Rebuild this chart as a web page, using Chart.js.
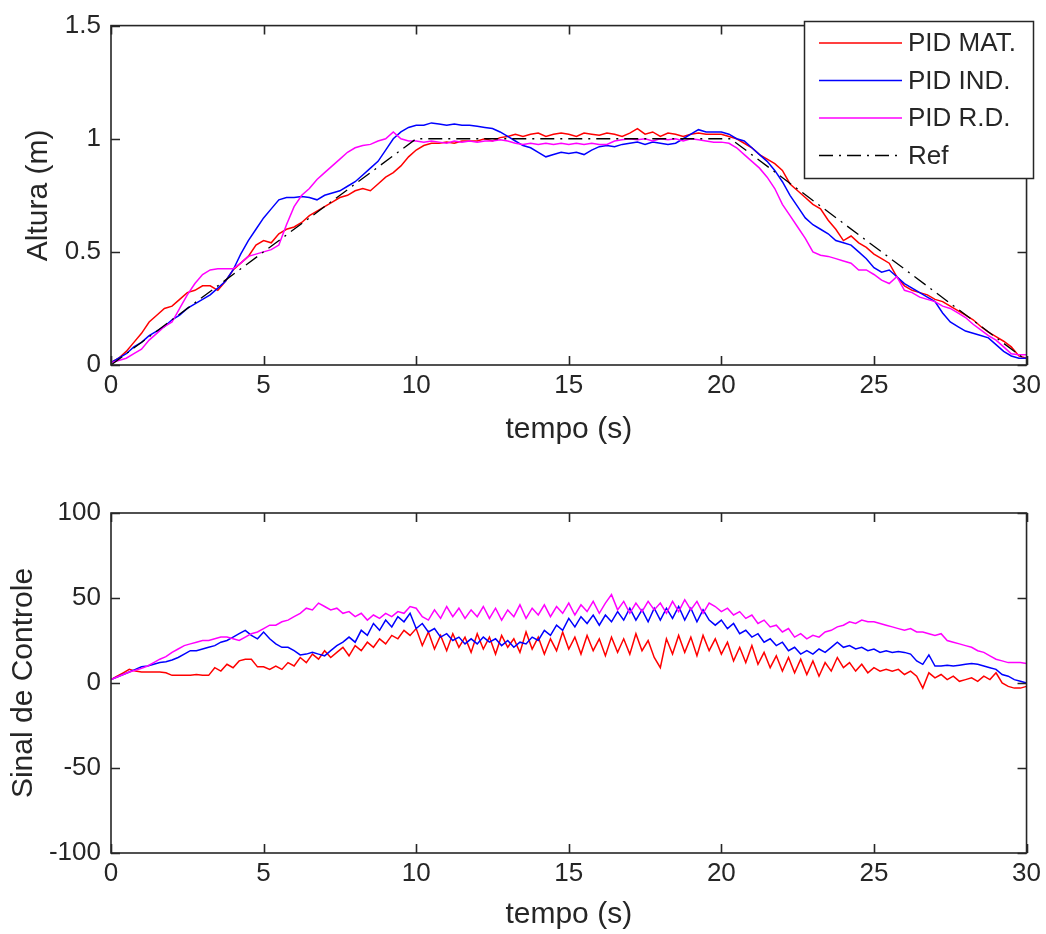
<!DOCTYPE html>
<html>
<head>
<meta charset="utf-8">
<script src="https://cdn.jsdelivr.net/npm/chart.js@4/dist/chart.umd.min.js"></script>
<style>
  body { margin: 0; background: #fff; }
  #wrap { position: relative; width: 1046px; height: 934px; }
  canvas { position: absolute; left: 0; }
  #altura { top: 0; }
  #sinal { top: 467px; }
</style>
</head>
<body>
<div id="wrap">
  <canvas id="altura" width="1046" height="467"></canvas>
  <canvas id="sinal" width="1046" height="467"></canvas>
</div>
<script>
// sample steps (s)
var dtAlt = 0.25;
var dtCtl = 0.2;

var seriesNames = ['PID MAT.', 'PID IND.', 'PID R.D.', 'Ref'];
var seriesColors = ['#ff0000', '#0000ff', '#ff00ff', '#000000'];

var xTicks = [0, 5, 10, 15, 20, 25, 30];
var altTicks = [0, 0.5, 1, 1.5];
var ctlTicks = [-100, -50, 0, 50, 100];

// altura (m), one value every 0.25 s
var matAlt = [
  0.01, 0.03, 0.06, 0.10, 0.14, 0.19, 0.22, 0.25,
  0.26, 0.29, 0.32, 0.33, 0.35, 0.35, 0.33, 0.37,
  0.42, 0.45, 0.48, 0.53, 0.55, 0.54, 0.58, 0.60,
  0.61, 0.63, 0.66, 0.68, 0.70, 0.72, 0.74, 0.75,
  0.77, 0.78, 0.77, 0.80, 0.83, 0.85, 0.88, 0.92,
  0.95, 0.97, 0.98, 0.98, 0.985, 0.98, 0.99, 0.99,
  0.99, 1.0, 0.99, 1.005, 1.01, 1.02, 1.01, 1.02,
  1.025, 1.01, 1.02, 1.025, 1.02, 1.01, 1.025, 1.02,
  1.015, 1.025, 1.02, 1.01, 1.025, 1.045, 1.02, 1.03,
  1.01, 1.025, 1.02, 1.01, 1.02, 1.025, 1.02, 1.02,
  1.02, 1.01, 1.0, 0.98, 0.96, 0.93, 0.91, 0.89,
  0.86, 0.80, 0.77, 0.74, 0.71, 0.69, 0.64, 0.60,
  0.55, 0.57, 0.54, 0.52, 0.49, 0.47, 0.45, 0.39,
  0.35, 0.33, 0.32, 0.31, 0.29, 0.28, 0.26, 0.24,
  0.22, 0.20, 0.17, 0.145, 0.125, 0.105, 0.08, 0.04,
  0.03
];
var indAlt = [
  0.01, 0.03, 0.05, 0.08, 0.10, 0.13, 0.15, 0.17,
  0.20, 0.22, 0.25, 0.27, 0.29, 0.31, 0.34, 0.37,
  0.42, 0.49, 0.55, 0.60, 0.65, 0.69, 0.73, 0.74,
  0.74, 0.745, 0.74, 0.73, 0.75, 0.76, 0.77, 0.79,
  0.81, 0.84, 0.87, 0.90, 0.95, 1.0, 1.03, 1.05,
  1.06, 1.06, 1.07, 1.065, 1.06, 1.065, 1.06, 1.06,
  1.055, 1.05, 1.045, 1.03, 1.01, 0.99, 0.97, 0.96,
  0.94, 0.92, 0.93, 0.94, 0.935, 0.94, 0.93, 0.95,
  0.965, 0.97, 0.965, 0.975, 0.98, 0.985, 0.975, 0.985,
  0.98, 0.975, 0.98, 1.0, 1.02, 1.04, 1.03, 1.03,
  1.03, 1.02, 1.0, 0.99, 0.96, 0.93, 0.90, 0.86,
  0.81, 0.75, 0.70, 0.65, 0.62, 0.60, 0.58, 0.55,
  0.54, 0.53, 0.50, 0.47, 0.43, 0.41, 0.42, 0.39,
  0.36, 0.34, 0.32, 0.30, 0.28, 0.23, 0.19, 0.17,
  0.15, 0.14, 0.13, 0.12, 0.09, 0.06, 0.04, 0.03,
  0.03
];
var rdAlt = [
  0.01, 0.02, 0.03, 0.05, 0.07, 0.11, 0.14, 0.17,
  0.19, 0.25, 0.31, 0.36, 0.40, 0.42, 0.425, 0.425,
  0.425, 0.45, 0.48, 0.49, 0.50, 0.51, 0.53, 0.62,
  0.70, 0.75, 0.78, 0.82, 0.85, 0.88, 0.91, 0.94,
  0.96, 0.97, 0.975, 0.99, 1.0, 1.03, 1.0, 0.99,
  0.99, 0.985, 0.99, 0.985, 0.98, 0.99, 0.985, 0.99,
  0.985, 0.99, 0.99, 0.995, 0.99, 0.98, 0.975, 0.98,
  0.975, 0.98, 0.975, 0.98, 0.975, 0.98, 0.975, 0.98,
  0.975, 0.975, 0.99, 0.995, 1.0, 0.995, 1.0, 0.99,
  1.0, 0.995, 1.0, 0.99, 1.0, 0.995, 0.99, 0.985,
  0.985, 0.98, 0.96, 0.93, 0.90, 0.87, 0.83, 0.78,
  0.71, 0.66, 0.61, 0.56, 0.50, 0.485, 0.48, 0.47,
  0.46, 0.45, 0.42, 0.42, 0.40, 0.375, 0.36, 0.39,
  0.33, 0.32, 0.30, 0.29, 0.28, 0.26, 0.25, 0.23,
  0.21, 0.18, 0.155, 0.13, 0.11, 0.08, 0.05, 0.045,
  0.045
];
// reference trajectory corners
var refTime = [0, 10, 20.3, 30];
var refAlt = [0, 1, 1, 0.02];

// sinal de controle, one value every 0.2 s
var matCtl = [
  2, 4, 6, 8, 7, 6.5, 6.5, 6.5, 6.5, 6,
  4.5, 4.5, 4.5, 4.5, 5, 4.5, 4.5, 9, 7, 11,
  9, 13, 14, 14, 9.5, 9.5, 8, 10, 8, 12,
  10, 15, 12, 17, 14, 19, 15, 18, 21, 16,
  22, 19, 24, 21, 26, 23, 28, 26, 31, 28,
  32, 22, 30, 20, 28, 19, 29, 21, 27, 18,
  29, 20, 27, 17, 28, 21, 26, 18, 30, 20,
  27, 17, 26, 19, 30, 20, 27, 17, 28, 19,
  26, 16, 27, 18, 26, 17, 29, 19, 25, 15,
  9, 26, 17, 28, 18, 27, 16, 28, 19, 26,
  17, 24, 13, 21, 12, 22, 11, 18, 9, 16,
  7, 15, 6, 14, 5, 13, 4, 12, 7, 15,
  9, 12, 7, 11, 6, 9, 7, 8, 7, 8,
  5, 7, 4, -3, 6, 3, 5, 2, 4, 1,
  2, 3, 1, 4, 2, 6, 0, -2, -3, -3,
  -2
];
var indCtl = [
  2, 3.5, 5, 6.5, 8, 9.5, 10, 11, 12, 12.5,
  13.5, 15, 17, 19, 19, 20, 21, 22, 24, 25,
  27, 29, 31, 28, 26, 30, 26, 23, 21, 21,
  19, 16.5, 17, 18, 17, 16, 19, 22, 24, 27,
  24, 31, 28, 35, 31, 37, 33, 39, 36, 41,
  32, 35, 30, 32, 27, 29, 25, 27, 23, 26,
  23, 27, 24, 26, 22, 25, 21, 24, 23, 27,
  25, 31, 28, 34, 31, 38, 33, 39, 35, 40,
  34, 40, 36, 42, 37, 44, 37, 43, 36, 44,
  37, 44, 38, 45, 37, 44, 36, 43, 37, 34,
  37, 32, 35, 29, 31, 27, 29, 24, 26, 22,
  24, 19, 21, 17, 19, 17, 20, 18, 21, 24,
  21, 22, 20, 21, 19, 20, 18, 19, 18, 18.5,
  18, 17, 13, 11, 16.5, 10, 10, 10.5, 10, 10.5,
  11, 11.5, 11, 10, 9, 8, 5, 4, 2, 1,
  0
];
var rdCtl = [
  2, 3.5, 5, 6.5, 7.5, 8.6, 10, 12, 14, 15.5,
  18, 20, 22, 23, 24, 25, 25, 26, 27, 27,
  26, 25, 27, 29, 30, 32, 34, 34, 36, 37,
  39, 41, 44, 43, 47, 45, 43, 44, 41, 42,
  39, 41, 37, 40, 38, 41, 39, 42, 41, 45,
  44, 39, 37, 43, 38, 45, 39, 44, 38, 43,
  39, 45, 38, 44, 37, 43, 39, 46, 38, 44,
  40, 46, 39, 45, 41, 47, 40, 46, 42, 48,
  41, 47, 52, 43, 48, 41, 47, 42, 48, 43,
  47, 41, 48, 42, 49, 43, 48, 41, 47, 45,
  42, 44, 40, 42, 38, 40, 35, 37, 33, 34,
  30, 32, 27, 29, 26, 28, 27, 30, 31, 33,
  34, 36, 35, 37, 36, 36, 35, 34, 33, 32,
  31, 32, 30, 30, 29, 28, 29, 25, 24, 23,
  22, 21, 19, 18, 16, 14, 13, 12, 12, 12,
  11.5
];

var FONT = "'Liberation Sans', Arial, sans-serif";
var INK = '#262626';

function sampled(values, dt) {
  return values.map(function(v, i) { return {x: i * dt, y: v}; });
}

// MATLAB-like box with inward ticks on all four sides
var boxFrame = {
  id: 'boxFrame',
  afterDatasetsDraw: function(chart) {
    var ctx = chart.ctx, a = chart.chartArea;
    var xs = chart.scales.x, ys = chart.scales.y;
    var len = 9;
    ctx.save();
    ctx.strokeStyle = INK;
    ctx.lineWidth = 1.6;
    ctx.beginPath();
    xs.ticks.forEach(function(t) {
      var px = Math.round(xs.getPixelForValue(t.value)) + 0.5;
      ctx.moveTo(px, a.bottom); ctx.lineTo(px, a.bottom - len);
      ctx.moveTo(px, a.top); ctx.lineTo(px, a.top + len);
    });
    ys.ticks.forEach(function(t) {
      var py = Math.round(ys.getPixelForValue(t.value)) + 0.5;
      ctx.moveTo(a.left, py); ctx.lineTo(a.left + len, py);
      ctx.moveTo(a.right, py); ctx.lineTo(a.right - len, py);
    });
    ctx.stroke();
    ctx.strokeRect(a.left, a.top, a.right - a.left, a.bottom - a.top);
    ctx.restore();
  }
};

// boxed legend in the upper right corner
var boxLegend = {
  id: 'boxLegend',
  afterDraw: function(chart) {
    var ctx = chart.ctx;
    var bx = 804, by = 21, bw = 229, bh = 157;
    ctx.save();
    ctx.fillStyle = '#fff';
    ctx.fillRect(bx, by, bw, bh);
    ctx.strokeStyle = INK;
    ctx.lineWidth = 1.5;
    ctx.strokeRect(bx + 0.5, by + 0.5, bw, bh);
    ctx.font = '26px ' + FONT;
    ctx.textBaseline = 'middle';
    ctx.fillStyle = INK;
    chart.data.datasets.forEach(function(ds, i) {
      var y = 43 + i * 37.5;
      ctx.strokeStyle = ds.borderColor;
      ctx.lineWidth = ds.borderWidth;
      ctx.setLineDash(ds.borderDash || []);
      ctx.beginPath();
      ctx.moveTo(819, y);
      ctx.lineTo(902, y);
      ctx.stroke();
      ctx.fillText(ds.label, 908, y + 1);
    });
    ctx.restore();
  }
};

function lineSet(i, points) {
  return {
    label: seriesNames[i],
    data: points,
    borderColor: seriesColors[i],
    borderWidth: 1.5,
    pointRadius: 0,
    tension: 0,
    order: 4 - i
  };
}

function makeOptions(cfg) {
  return {
    responsive: false,
    animation: false,
    events: [],
    layout: { padding: { top: cfg.top, right: 15, bottom: 0, left: 0 } },
    plugins: { legend: { display: false }, tooltip: { enabled: false } },
    scales: {
      x: {
        type: 'linear',
        min: 0, max: 30,
        afterBuildTicks: function(s) { s.ticks = xTicks.map(function(v) { return {value: v}; }); },
        afterFit: function(s) { s.height = cfg.xHeight; },
        grid: { display: false, drawTicks: false },
        border: { display: false },
        ticks: { color: INK, font: { family: FONT, size: 26 }, padding: 5, maxRotation: 0,
                 callback: function(v) { return String(v); } },
        title: { display: true, text: 'tempo (s)', color: INK, font: { family: FONT, size: 30 },
                 padding: { top: 0, bottom: cfg.xTitlePad } }
      },
      y: {
        min: cfg.yMin, max: cfg.yMax,
        afterBuildTicks: function(s) { s.ticks = cfg.yTicks.map(function(v) { return {value: v}; }); },
        afterFit: function(s) { s.width = 111; },
        grid: { display: false, drawTicks: false },
        border: { display: false },
        ticks: { color: INK, font: { family: FONT, size: 26 }, padding: 10,
                 callback: function(v) { return String(v); } },
        title: { display: true, text: cfg.yTitle, color: INK, font: { family: FONT, size: 30 },
                 padding: { top: cfg.yTitlePad, bottom: 0 } }
      }
    }
  };
}

new Chart(document.getElementById('altura'), {
  type: 'line',
  data: {
    datasets: [
      lineSet(0, sampled(matAlt, dtAlt)),
      lineSet(1, sampled(indAlt, dtAlt)),
      lineSet(2, sampled(rdAlt, dtAlt)),
      Object.assign(lineSet(3, refTime.map(function(t, i) { return {x: t, y: refAlt[i]}; })),
                    { borderDash: [14, 6, 2, 6], borderWidth: 1.3 })
    ]
  },
  options: makeOptions({ top: 23, xHeight: 102, xTitlePad: 19,
                         yMin: 0, yMax: 1.5, yTicks: altTicks, yTitle: 'Altura (m)', yTitlePad: 21 }),
  plugins: [boxFrame, boxLegend]
});

new Chart(document.getElementById('sinal'), {
  type: 'line',
  data: {
    datasets: [
      lineSet(0, sampled(matCtl, dtCtl)),
      lineSet(1, sampled(indCtl, dtCtl)),
      lineSet(2, sampled(rdCtl, dtCtl))
    ]
  },
  options: makeOptions({ top: 46, xHeight: 81, xTitlePad: 1,
                         yMin: -100, yMax: 100, yTicks: ctlTicks, yTitle: 'Sinal de Controle', yTitlePad: 6 }),
  plugins: [boxFrame]
});
</script>
</body>
</html>
